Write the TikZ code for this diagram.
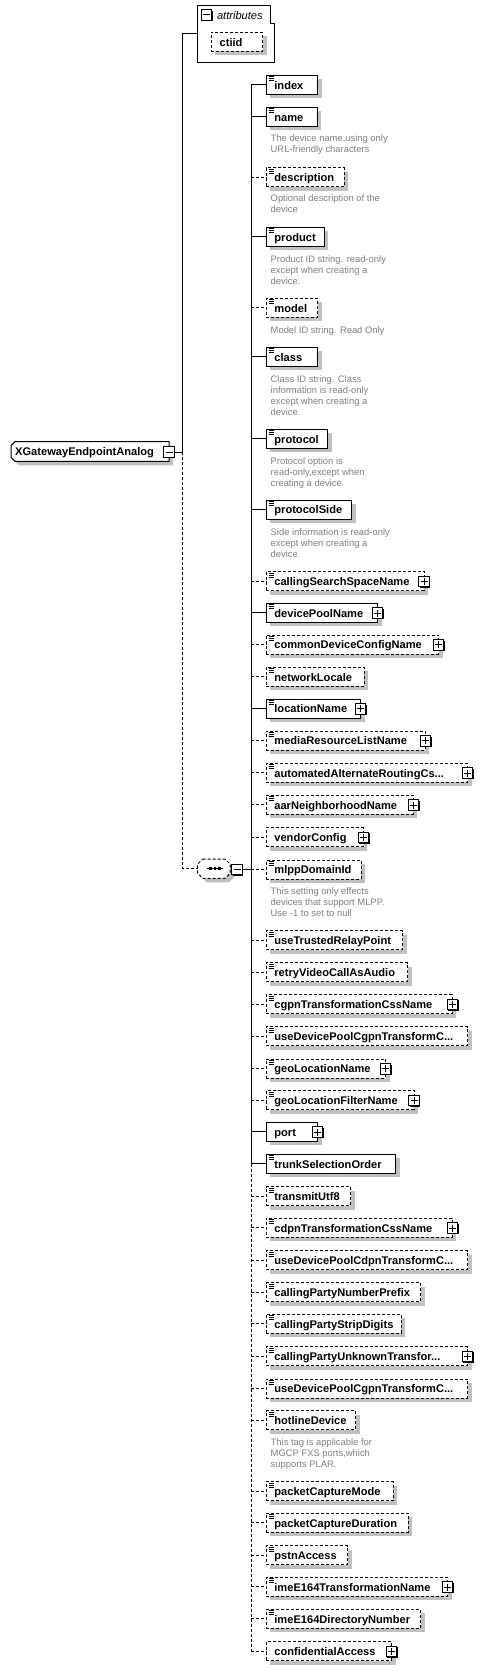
\documentclass[tikz,border=0pt]{standalone}
\usepackage{fontspec}
\setmainfont{Liberation Sans}
\usetikzlibrary{shadows,calc}
\definecolor{shadowgray}{HTML}{C0C0C0}
\definecolor{descgray}{HTML}{808080}
\tikzset{
  conn/.style={line width=1pt},
  req/.style={solid},
  opt/.style={dash pattern=on 3pt off 2pt},
  elembox/.style={draw, fill=white, line width=1pt, inner sep=0pt, outer sep=0pt,
    minimum height=19pt, anchor=north west,
    general shadow={shadow xshift=4pt, shadow yshift=-4pt, fill=shadowgray}},
  lbl/.style={font=\bfseries\fontsize{11.1}{13}\selectfont, inner sep=0pt, anchor=base west},
  ital/.style={font=\itshape\fontsize{11.1}{13}\selectfont, inner sep=0pt, anchor=base west},
  desc/.style={font=\fontsize{9.4}{11.3}\selectfont, text=descgray, inner sep=0pt, anchor=base west},
  pm/.style={draw, solid, fill=white, line width=1pt, minimum size=10.5pt, inner sep=0pt, outer sep=0pt,
    general shadow={shadow xshift=1pt, shadow yshift=-1pt, fill=black}},
  hole/.style={inner sep=0pt, outer sep=0pt, anchor=north west},
}
% #1 id, #2 top, #3 right, #4 label, #5 req/opt, #6 icon, #7 plus
\newcommand\El[7]{%
  \node[elembox,#5,minimum width={#3-266.3}] (#1) at (266.3,#2) {};
  \node[lbl] (#1-l) at (274.2,{#2+13.8}) {#4};
  \ifnum#6=1 \draw[line width=0.9pt] (#1.north west) ++(2.2,1.6) -- ++(5,0) ++(-5,2) -- ++(5,0) ++(-5,2) -- ++(5,0);\fi
  \ifnum#7=1 \node[pm] (#1-p) at (#3,{#2+9.8}) {};
    \draw[line width=1pt] (#1-p.center) ++(-3.5,0) -- ++(7,0) (#1-p.center) ++(0,-3.5) -- ++(0,7);\fi
  \draw[conn,#5] (tx |- #1.west) -- (#1.west);
}
\newcommand\Desc[3]{%
  \foreach \t [count=\i] in {#3} {\node[desc] (#1-\i) at (270.5,{#2+(\i-1)*11.3}) {\t};}
}
\begin{document}
\begin{tikzpicture}[x=1pt,y=-1pt]
\fill[white] (0,0) rectangle (482,1670);
\useasboundingbox (0,0) rectangle (482,1670);
\coordinate (fork) at (182.7,452);
\coordinate (tx) at (251,869.3);

% attributes group
\node[hole, minimum width=76.6pt, minimum height=57pt] (attr) at (197.7,5.3) {};
\draw[line width=1pt, fill=white] (197.7,5.3) -- (270,5.3) -- (270,23.3) -- (274.3,23.3) -- (274.3,62.3) -- (197.7,62.3) -- cycle;
\node[pm] (attr-m) at (206.5,15) {};
\draw[line width=1pt] (attr-m.center) ++(-3.5,0) -- ++(7,0);
\node[ital] (attr-l) at (216.8,19.8) {attributes};
\node[elembox,opt,minimum width=51.4pt] (ctiid) at (211.3,32.3) {};
\node[lbl] (ctiid-l) at (219.5,46.1) {ctiid};

% root element
\node[hole, minimum width=158pt, minimum height=19.6pt] (root) at (11,441.7) {};
\fill[shadowgray, shift={(4,4)}] (15,441.7) -- (169,441.7) -- (169,461.3) -- (15,461.3) -- (11,457.3) -- (11,445.7) -- cycle;
\draw[line width=1pt, fill=white] (15,441.7) -- (169,441.7) -- (169,461.3) -- (15,461.3) -- (11,457.3) -- (11,445.7) -- cycle;
\node[lbl] (root-l) at (15,455.9) {XGatewayEndpointAnalog};
\node[pm] (root-m) at (169,452) {};
\draw[line width=1pt] (root-m.center) ++(-3.5,0) -- ++(7,0);

% sequence compositor
\node[hole, minimum width=32.3pt, minimum height=19.3pt] (seq) at (197.7,859) {};
\fill[shadowgray, shift={(4,4)}] (202.7,859) -- (225,859) -- (230,864) -- (230,873.3) -- (225,878.3) -- (202.7,878.3) -- (197.7,873.3) -- (197.7,864) -- cycle;
\draw[line width=1pt, opt, fill=white] (202.7,859) -- (225,859) -- (230,864) -- (230,873.3) -- (225,878.3) -- (202.7,878.3) -- (197.7,873.3) -- (197.7,864) -- cycle;
\draw[line width=1pt] (206.5,868.7) -- (222.5,868.7);
\foreach \dx in {210.6,215,219.4} \fill (\dx-1.4,867.3) rectangle (\dx+1.4,870.1);
\node[pm] (seq-m) at (237.2,869.3) {};
\draw[line width=1pt] (seq-m.center) ++(-3.5,0) -- ++(7,0);

% left connectors
\draw[conn] (root-m.east) -- (fork);
\draw[conn] (fork) |- (attr.west);
\draw[conn,opt] (fork) |- (seq.west);
\draw[conn] (seq-m.east) -- (tx);

% children
\El{index}{75.3}{317.7}{index}{req}{1}{0}
\El{name}{107.3}{317}{name}{req}{1}{0}
\Desc{dname}{141.6}{{The device name,using only},{URL-friendly characters}}
\El{description}{167.7}{344.3}{description}{opt}{1}{0}
\Desc{ddescription}{201}{{Optional description of the},{device}}
\El{product}{227.3}{324.3}{product}{req}{1}{0}
\Desc{dproduct}{262}{{Product ID string. read-only},{except when creating a},{device.}}
\El{model}{298.3}{317.7}{model}{opt}{1}{0}
\Desc{dmodel}{333}{{Model ID string. Read Only}}
\El{class}{347.3}{317.7}{class}{req}{1}{0}
\Desc{dclass}{382}{{Class ID string. Class},{information is read-only},{except when creating a},{device.}}
\El{protocol}{429.3}{327.7}{protocol}{req}{1}{0}
\Desc{dprotocol}{464.3}{{Protocol option is},{read-only,except when},{creating a device.}}
\El{protocolSide}{500}{351.7}{protocolSide}{req}{1}{0}
\Desc{dprotocolSide}{535}{{Side information is read-only},{except when creating a},{device}}
\El{css}{571.7}{424}{callingSearchSpaceName}{opt}{1}{1}
\El{devicePool}{603.3}{377.7}{devicePoolName}{req}{1}{1}
\El{commonDev}{635}{438.7}{commonDeviceConfigName}{opt}{1}{1}
\El{netLocale}{667.3}{364.3}{networkLocale}{opt}{1}{0}
\El{location}{699}{360.7}{locationName}{req}{1}{1}
\El{mrl}{731}{425.3}{mediaResourceListName}{opt}{1}{1}
\El{aar}{763.3}{467.7}{automatedAlternateRoutingCs...}{opt}{1}{1}
\El{aarNb}{795.3}{413.3}{aarNeighborhoodName}{opt}{1}{1}
\El{vendor}{827.7}{363.3}{vendorConfig}{opt}{0}{1}
\El{mlpp}{860}{361}{mlppDomainId}{opt}{1}{0}
\Desc{dmlpp}{894}{{This setting only effects},{devices that support MLPP.},{Use -1 to set to null}}
\El{trp}{930.7}{402.7}{useTrustedRelayPoint}{opt}{1}{0}
\El{retry}{962.7}{407.7}{retryVideoCallAsAudio}{opt}{1}{0}
\El{cgpnCss}{994.7}{452.3}{cgpnTransformationCssName}{opt}{1}{1}
\El{udpCgpnA}{1026.7}{467.7}{useDevicePoolCgpnTransformC...}{opt}{1}{0}
\El{geoLoc}{1059}{385.7}{geoLocationName}{opt}{1}{1}
\El{geoFilter}{1090.7}{414}{geoLocationFilterName}{opt}{1}{1}
\El{port}{1122.3}{317.7}{port}{req}{0}{1}
\El{trunkSel}{1154.3}{395.7}{trunkSelectionOrder}{req}{1}{0}
\El{utf}{1186.7}{350.7}{transmitUtf8}{opt}{1}{0}
\El{cdpnCss}{1218.3}{452.3}{cdpnTransformationCssName}{opt}{1}{1}
\El{udpCdpn}{1250.7}{467.7}{useDevicePoolCdpnTransformC...}{opt}{1}{0}
\El{cpnPrefix}{1282.7}{420.7}{callingPartyNumberPrefix}{opt}{1}{0}
\El{cpStrip}{1314.3}{401.3}{callingPartyStripDigits}{opt}{1}{0}
\El{cpUnknown}{1346.7}{467.7}{callingPartyUnknownTransfor...}{opt}{1}{1}
\El{udpCgpnB}{1379}{467.7}{useDevicePoolCgpnTransformC...}{opt}{1}{0}
\El{hotline}{1410.7}{355.7}{hotlineDevice}{opt}{1}{0}
\Desc{dhotline}{1445}{{This tag is applicable for},{MGCP FXS ports,which},{supports PLAR.}}
\El{pcMode}{1481.7}{393.3}{packetCaptureMode}{opt}{1}{0}
\El{pcDur}{1513.3}{408.3}{packetCaptureDuration}{opt}{1}{0}
\El{pstn}{1545.7}{347.7}{pstnAccess}{opt}{1}{0}
\El{imeTrans}{1577.3}{447.7}{imeE164TransformationName}{opt}{1}{1}
\El{imeDir}{1609.3}{420.7}{imeE164DirectoryNumber}{opt}{1}{0}
\El{confAccess}{1641.7}{391.7}{confidentialAccess}{opt}{0}{1}

% trunk line of the sequence
\draw[conn] (tx |- index.west) -- (tx |- trunkSel.west);
\draw[conn,opt] (tx |- trunkSel.west) -- (tx |- confAccess.west);
\end{tikzpicture}
\end{document}
